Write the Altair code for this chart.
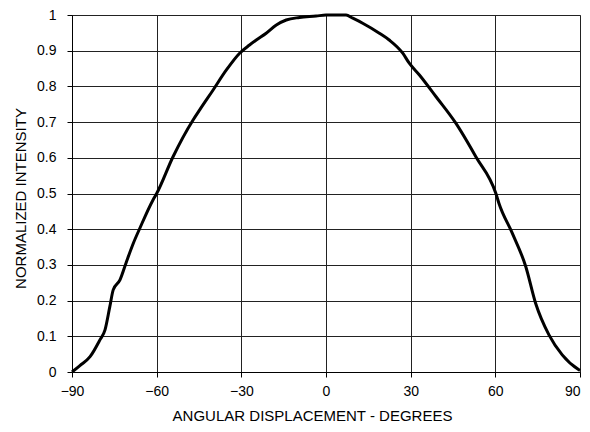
import altair as alt
import pandas as pd

degrees = [-90, -87.2, -83.6, -80.1, -78.3, -76.6, -75.4, -73.0, -70.7, -68.3, -66.0,
           -61.3, -60.0, -54.2, -47.1, -44.7, -40.0, -35.3, -30.6, -27.1, -24.7, -21.2,
           -17.6, -14.1, -9.4, -3.5, 0, 7.1, 9.5, 13.0, 18.9, 22.4, 27.2, 29.5, 33.1, 39.0,
           46.0, 53.1, 60.2, 61.3, 66.0, 70.8, 74.3, 79.0, 83.7, 89.6, 90]
intensity = [0.0, 0.018, 0.043, 0.090, 0.118, 0.183, 0.23, 0.258, 0.309, 0.36, 0.402,
             0.482, 0.50, 0.603, 0.706, 0.735, 0.79, 0.846, 0.893, 0.916, 0.93, 0.949,
             0.972, 0.986, 0.993, 0.997, 1.0, 1.0, 0.991, 0.977, 0.949, 0.93, 0.893, 0.865,
             0.832, 0.771, 0.697, 0.603, 0.50, 0.472, 0.389, 0.295, 0.192, 0.104, 0.048,
             0.006, 0.004]

x_ticks = [-90, -60, -30, 0, 30, 60, 90]
y_ticks = [0, 0.1, 0.2, 0.3, 0.4, 0.5, 0.6, 0.7, 0.8, 0.9, 1.0]

df = pd.DataFrame({"deg": degrees, "val": intensity})

FONT = "Liberation Sans"

chart = alt.Chart(df).mark_line(color="black", strokeWidth=3, strokeJoin="round",
                                interpolate="monotone").encode(
    x=alt.X("deg:Q",
            scale=alt.Scale(domain=[-90, 90], nice=False, zero=False),
            axis=alt.Axis(values=x_ticks, title="ANGULAR DISPLACEMENT - DEGREES",
                          format="d", tickSize=5, labelPadding=7,
                          labelFontSize=14, titleFontSize=15,
                          labelAlign=alt.ExprRef("datum.value == 90 ? 'right' : 'center'"),
                          titleFontWeight="normal",
                          titleBaseline="alphabetic", titleY=48, titleX=240,
                          titleAlign="center")),
    y=alt.Y("val:Q",
            scale=alt.Scale(domain=[0, 1], nice=False),
            axis=alt.Axis(values=y_ticks, title="NORMALIZED INTENSITY",
                          format=".1~f", tickSize=5, labelPadding=11,
                          labelFontSize=14, titleFontSize=15,
                          titleFontWeight="normal",
                          titleBaseline="alphabetic", titleAngle=-90,
                          titleX=-47, titleY=183, titleAlign="center")),
).properties(
    width=508,
    height=357,
    autosize=alt.AutoSizeParams(type="none"),
    padding={"left": 64, "top": 7, "right": 2, "bottom": 52},
).configure_view(
    stroke="#888888", strokeWidth=1
).configure_axis(
    labelFont=FONT, titleFont=FONT, labelColor="black", titleColor="black",
    domainColor="black", tickColor="black", gridColor="#222222",
    gridOpacity=1, gridWidth=1, domainWidth=1, labelFlush=False,
)

chart.save("out.html", embed_options={"renderer": "svg", "actions": False})
